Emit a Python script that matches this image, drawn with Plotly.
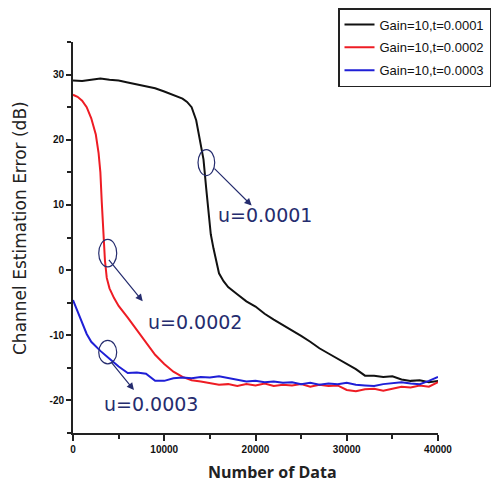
import plotly.graph_objects as go

# ---- data (x in number of data samples) ----
black_x = [0, 1000, 2000, 3000, 4000, 5000, 6000, 7000, 8000, 9000, 10000, 11000, 12000, 12500, 13000,
           13500, 14000, 14300, 14600, 14900, 15100, 15400, 15700, 16000, 16500, 17000, 18000, 19000,
           20000, 21000, 22000, 23000, 24000, 25000, 26000, 27000, 28000, 29000, 30000, 31000, 32000,
           33000, 34000, 35000, 36000, 37000, 38000, 39000, 40000]
black_y = [29.1, 29.0, 29.2, 29.4, 29.2, 29.1, 28.8, 28.5, 28.2, 27.9, 27.4, 26.9, 26.3, 25.8, 25.0,
           23.0, 19.5, 17.0, 12.5, 8.0, 5.5, 3.3, 1.2, -0.5, -1.7, -2.6, -3.7, -4.8,
           -5.6, -6.7, -7.6, -8.4, -9.3, -10.1, -11.0, -12.0, -12.8, -13.6, -14.3, -15.2, -16.2,
           -16.2, -16.4, -16.3, -16.8, -17.0, -16.9, -17.2, -17.0]

red_x = [0, 500, 1000, 1500, 2000, 2500, 2800, 3000, 3150, 3300, 3500, 3700, 4000, 4500, 5000, 6000,
         7000, 8000, 9000, 10000, 11000, 12000, 13000, 14000, 15000, 16000, 17000, 18000, 19000, 20000,
         21000, 22000, 23000, 24000, 25000, 26000, 27000, 28000, 29000, 30000, 31000, 32000, 33000,
         34000, 35000, 36000, 37000, 38000, 39000, 40000]
red_y = [26.9, 26.6, 26.0, 25.0, 23.3, 20.8, 18.0, 15.0, 10.5, 6.5, 1.5, -1.2, -2.8, -4.3, -5.5, -7.3,
         -9.2, -11.2, -13.0, -14.4, -15.6, -16.4, -16.9, -17.1, -17.4, -17.6, -17.5, -17.8, -17.5, -17.7,
         -17.4, -17.8, -17.6, -17.7, -17.5, -17.9, -17.6, -17.8, -17.7, -18.4, -18.6, -18.3, -18.2,
         -18.5, -18.2, -17.9, -18.0, -17.7, -17.9, -17.2]

blue_x = [0, 500, 1000, 1500, 2000, 3000, 4000, 5000, 6000, 7000, 8000, 9000, 10000, 11000, 12000,
          13000, 14000, 15000, 16000, 17000, 18000, 19000, 20000, 21000, 22000, 23000, 24000, 25000,
          26000, 27000, 28000, 29000, 30000, 31000, 32000, 33000, 34000, 35000, 36000, 37000, 38000,
          39000, 40000]
blue_y = [-4.6, -6.3, -8.2, -9.8, -11.0, -12.4, -13.6, -14.8, -15.8, -15.7, -15.9, -17.0, -17.0, -16.6,
          -16.5, -16.6, -16.4, -16.5, -16.3, -16.6, -16.9, -17.1, -17.0, -17.2, -17.1, -17.3, -17.2,
          -17.5, -17.3, -17.6, -17.4, -17.5, -17.3, -17.6, -17.7, -17.8, -17.5, -17.4, -17.2, -17.4,
          -17.5, -17.0, -16.4]

series_names = ["Gain=10,t=0.0001", "Gain=10,t=0.0002", "Gain=10,t=0.0003"]
series_colors = ["#111111", "#ee1c24", "#1f1fd6"]

x_tick_vals = [0, 10000, 20000, 30000, 40000]
x_tick_text = ["0", "10000", "20000", "30000", "40000"]
y_tick_vals = [-20, -10, 0, 10, 20, 30]
y_tick_text = ["-20", "-10", "0", "10", "20", "30"]

# callouts: label, ellipse box (x0,x1,y0,y1), arrow tail, arrow head, text anchor
callout_labels = ["u=0.0001", "u=0.0002", "u=0.0003"]
callout_ellipses = [(13700, 15530, 14.5, 18.5), (2820, 4790, 0.5, 4.7), (2820, 4790, -14.4, -10.8)]
callout_tails = [(15340, 15.8), (3800, 1.8), (4050, -13.9)]
callout_heads = [(19580, 9.9), (7640, -4.8), (6680, -18.4)]
callout_text_pos = [(15700, 8.4), (8000, -8.0), (3180, -20.5)]

fig = go.Figure()
for i, (xs, ys, nm, col) in enumerate(zip([black_x, red_x, blue_x], [black_y, red_y, blue_y],
                                          series_names, series_colors)):
    fig.add_trace(go.Scatter(x=xs, y=ys, mode="lines", name=nm, legendgroup=f"g{i}",
                             line=dict(color=col, width=2)))

navy = "#252c6e"
for (x0, x1, y0, y1) in callout_ellipses:
    fig.add_shape(type="circle", xref="x", yref="y", x0=x0, x1=x1, y0=y0, y1=y1,
                  line=dict(color=navy, width=1.2))
for (tx, ty), (hx, hy) in zip(callout_tails, callout_heads):
    fig.add_annotation(x=hx, y=hy, ax=tx, ay=ty, xref="x", yref="y", axref="x", ayref="y",
                       showarrow=True, arrowhead=2, arrowsize=1.2, arrowwidth=1.2,
                       arrowcolor=navy, text="")
for lab, (px, py) in zip(callout_labels, callout_text_pos):
    fig.add_annotation(x=px, y=py, xref="x", yref="y", text=lab, showarrow=False,
                       xanchor="left", yanchor="middle",
                       font=dict(family="DejaVu Sans", size=19, color=navy))

# axis titles as annotations (positions relative to plot area in page pixels)
fig.add_annotation(xref="paper", yref="paper", x=(272 - 73) / 365, y=-(472 - 433) / 391,
                   text="<b>Number of Data</b>", showarrow=False, xanchor="center", yanchor="middle",
                   font=dict(family="Open Sans", size=16, color="#222222"))
fig.add_annotation(xref="paper", yref="paper", x=-(73 - 20) / 365, y=(433 - 228) / 391,
                   text="Channel Estimation Error (dB)", showarrow=False, textangle=-90,
                   xanchor="center", yanchor="middle",
                   font=dict(family="DejaVu Sans", size=17, color="#222222"))

# page body has an 8px margin, so the figure is sized/offset to compensate
fig.update_layout(
    width=491, height=481,
    margin=dict(l=65, r=61, t=34, b=56, autoexpand=False),
    paper_bgcolor="white", plot_bgcolor="white",
    showlegend=True,
    legend=dict(x=(491 - 73) / 365, y=1 + (42 - 8) / 391, xanchor="right", yanchor="top",
                bordercolor="#222222", borderwidth=1.5, bgcolor="white",
                font=dict(family="Liberation Sans", size=13, color="#111111"),
                tracegroupgap=3),
    xaxis=dict(range=[0, 40000], tickvals=x_tick_vals, ticktext=x_tick_text,
               showgrid=False, zeroline=False, showline=True, linecolor="#222222", linewidth=2,
               ticks="outside", ticklen=6, tickwidth=1.5, tickcolor="#222222",
               minor=dict(dtick=5000, ticklen=4, tickwidth=1.5, tickcolor="#222222", ticks="outside"),
               tickfont=dict(family="Liberation Sans", size=10, color="#111111", weight="bold")),
    yaxis=dict(range=[-25, 35], tickvals=y_tick_vals, ticktext=y_tick_text,
               showgrid=False, zeroline=False, showline=True, linecolor="#222222", linewidth=2,
               ticks="outside", ticklen=5, tickwidth=1.5, tickcolor="#222222",
               minor=dict(dtick=5, tick0=0, ticklen=4, tickwidth=1.5, tickcolor="#222222", ticks="outside"),
               tickfont=dict(family="Liberation Sans", size=10, color="#111111", weight="bold")),
)

fig.write_html("out.html")
